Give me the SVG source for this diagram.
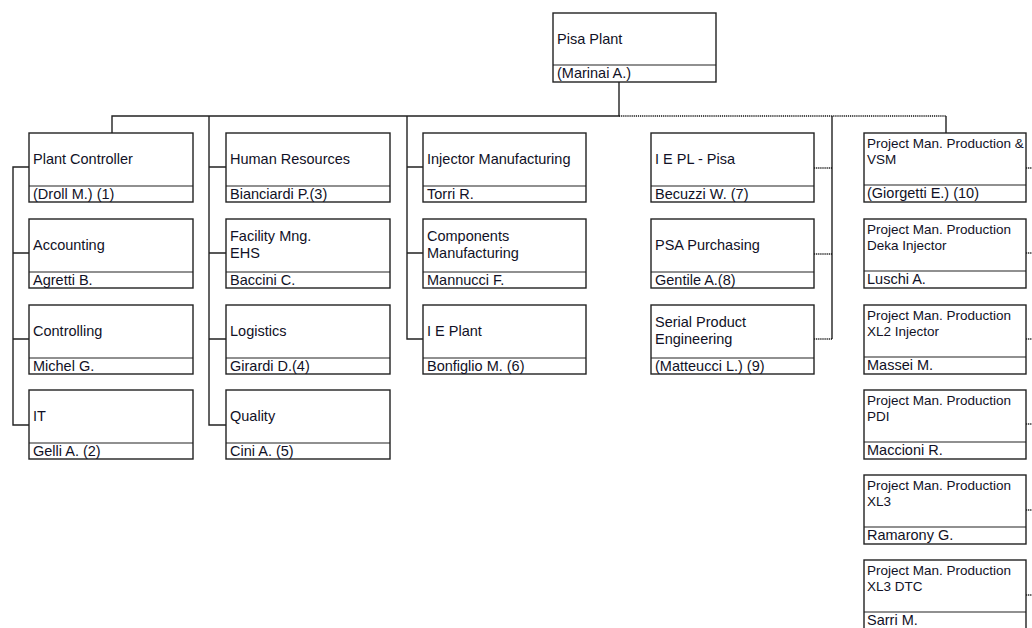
<svg xmlns="http://www.w3.org/2000/svg" width="1032" height="628" viewBox="0 0 1032 628">
  <style>
    .box { fill: #fff; stroke: #222; stroke-width: 1.4; }
    .div { stroke: #222; stroke-width: 1.2; }
    .t { font-family: "Liberation Sans", Arial, sans-serif; font-size: 14.5px; fill: #111126; }
    .s { font-family: "Liberation Sans", Arial, sans-serif; font-size: 13.5px; fill: #111126; }
    .ln { fill: none; stroke: #222; stroke-width: 1.4; }
    .dot { fill: none; stroke: #111; stroke-width: 1.6; stroke-dasharray: 1.2 0.9; }
  </style>
  <rect width="1032" height="628" fill="#fff"/>

  <!-- reporting lines -->
  <g id="connectors">
    <path class="ln" d="M619 82 V116 H112 V133"/>
    <!-- column 1: staff under Plant Controller -->
    <path class="ln" d="M29 167 H13 V425 H29 M13 253 H29 M13 339 H29"/>
    <!-- column 2 -->
    <path class="ln" d="M209 116 V425 H226 M209 167 H226 M209 253 H226 M209 339 H226"/>
    <!-- column 3 -->
    <path class="ln" d="M407 116 V339 H423 M407 167 H423 M407 253 H423"/>
    <!-- functional (dotted) lines -->
    <path class="dot" d="M619 116 H946"/>
    <path class="ln" d="M832 116 V339"/>
    <path class="dot" d="M814 168 H832 M814 254 H832 M814 339 H832"/>
    <path class="ln" d="M946 116 V133"/>
    <path class="dot" d="M1026 168 H1032 M1026 253 H1032 M1026 339 H1032 M1026 424 H1032 M1026 510 H1032 M1026 595 H1032"/>
  </g>

  <g id="pisa-plant">
    <rect class="box" x="553" y="13" width="163" height="69"/>
    <line class="div" x1="553" y1="65" x2="716" y2="65"/>
    <text class="t" x="557" y="44">Pisa Plant</text>
    <text class="t" x="557" y="78">(Marinai A.)</text>
  </g>

  <!-- column 1 -->
  <g id="plant-controller">
    <rect class="box" x="29" y="133" width="164" height="69"/>
    <line class="div" x1="29" y1="186" x2="193" y2="186"/>
    <text class="t" x="33" y="164">Plant Controller</text>
    <text class="t" x="33" y="199">(Droll M.) (1)</text>
  </g>
  <g id="accounting">
    <rect class="box" x="29" y="219" width="164" height="69"/>
    <line class="div" x1="29" y1="272" x2="193" y2="272"/>
    <text class="t" x="33" y="250">Accounting</text>
    <text class="t" x="33" y="285">Agretti B.</text>
  </g>
  <g id="controlling">
    <rect class="box" x="29" y="305" width="164" height="69"/>
    <line class="div" x1="29" y1="358" x2="193" y2="358"/>
    <text class="t" x="33" y="336">Controlling</text>
    <text class="t" x="33" y="371">Michel G.</text>
  </g>
  <g id="it">
    <rect class="box" x="29" y="390" width="164" height="69"/>
    <line class="div" x1="29" y1="443" x2="193" y2="443"/>
    <text class="t" x="33" y="421">IT</text>
    <text class="t" x="33" y="456">Gelli A. (2)</text>
  </g>

  <!-- column 2 -->
  <g id="human-resources">
    <rect class="box" x="226" y="133" width="164" height="69"/>
    <line class="div" x1="226" y1="186" x2="390" y2="186"/>
    <text class="t" x="230" y="164">Human Resources</text>
    <text class="t" x="230" y="199">Bianciardi P.(3)</text>
  </g>
  <g id="facility-ehs">
    <rect class="box" x="226" y="219" width="164" height="69"/>
    <line class="div" x1="226" y1="272" x2="390" y2="272"/>
    <text class="t" x="230" y="241">Facility Mng.</text>
    <text class="t" x="230" y="258">EHS</text>
    <text class="t" x="230" y="285">Baccini C.</text>
  </g>
  <g id="logistics">
    <rect class="box" x="226" y="305" width="164" height="69"/>
    <line class="div" x1="226" y1="358" x2="390" y2="358"/>
    <text class="t" x="230" y="336">Logistics</text>
    <text class="t" x="230" y="371">Girardi D.(4)</text>
  </g>
  <g id="quality">
    <rect class="box" x="226" y="390" width="164" height="69"/>
    <line class="div" x1="226" y1="443" x2="390" y2="443"/>
    <text class="t" x="230" y="421">Quality</text>
    <text class="t" x="230" y="456">Cini A. (5)</text>
  </g>

  <!-- column 3 -->
  <g id="injector-manufacturing">
    <rect class="box" x="423" y="133" width="163" height="69"/>
    <line class="div" x1="423" y1="186" x2="586" y2="186"/>
    <text class="t" x="427" y="164">Injector Manufacturing</text>
    <text class="t" x="427" y="199">Torri R.</text>
  </g>
  <g id="components-manufacturing">
    <rect class="box" x="423" y="219" width="163" height="69"/>
    <line class="div" x1="423" y1="272" x2="586" y2="272"/>
    <text class="t" x="427" y="241">Components</text>
    <text class="t" x="427" y="258">Manufacturing</text>
    <text class="t" x="427" y="285">Mannucci F.</text>
  </g>
  <g id="ie-plant">
    <rect class="box" x="423" y="305" width="163" height="69"/>
    <line class="div" x1="423" y1="358" x2="586" y2="358"/>
    <text class="t" x="427" y="336">I E Plant</text>
    <text class="t" x="427" y="371">Bonfiglio M. (6)</text>
  </g>

  <!-- column 4 -->
  <g id="ie-pl-pisa">
    <rect class="box" x="651" y="133" width="163" height="69"/>
    <line class="div" x1="651" y1="186" x2="814" y2="186"/>
    <text class="t" x="655" y="164">I E PL - Pisa</text>
    <text class="t" x="655" y="199">Becuzzi W. (7)</text>
  </g>
  <g id="psa-purchasing">
    <rect class="box" x="651" y="219" width="163" height="69"/>
    <line class="div" x1="651" y1="272" x2="814" y2="272"/>
    <text class="t" x="655" y="250">PSA Purchasing</text>
    <text class="t" x="655" y="285">Gentile A.(8)</text>
  </g>
  <g id="serial-product-engineering">
    <rect class="box" x="651" y="305" width="163" height="69"/>
    <line class="div" x1="651" y1="358" x2="814" y2="358"/>
    <text class="t" x="655" y="327">Serial Product</text>
    <text class="t" x="655" y="344">Engineering</text>
    <text class="t" x="655" y="371">(Matteucci L.) (9)</text>
  </g>

  <!-- column 5: project management -->
  <g id="pm-vsm">
    <rect class="box" x="864" y="133" width="162" height="69"/>
    <line class="div" x1="864" y1="185" x2="1026" y2="185"/>
    <text class="s" x="867" y="148">Project Man. Production &amp;</text>
    <text class="s" x="867" y="164">VSM</text>
    <text class="t" x="867" y="198">(Giorgetti E.) (10)</text>
  </g>
  <g id="pm-deka">
    <rect class="box" x="864" y="219" width="162" height="69"/>
    <line class="div" x1="864" y1="271" x2="1026" y2="271"/>
    <text class="s" x="867" y="234">Project Man. Production</text>
    <text class="s" x="867" y="250">Deka Injector</text>
    <text class="t" x="867" y="284">Luschi A.</text>
  </g>
  <g id="pm-xl2">
    <rect class="box" x="864" y="305" width="162" height="69"/>
    <line class="div" x1="864" y1="357" x2="1026" y2="357"/>
    <text class="s" x="867" y="320">Project Man. Production</text>
    <text class="s" x="867" y="336">XL2 Injector</text>
    <text class="t" x="867" y="370">Massei M.</text>
  </g>
  <g id="pm-pdi">
    <rect class="box" x="864" y="390" width="162" height="69"/>
    <line class="div" x1="864" y1="442" x2="1026" y2="442"/>
    <text class="s" x="867" y="405">Project Man. Production</text>
    <text class="s" x="867" y="421">PDI</text>
    <text class="t" x="867" y="455">Maccioni R.</text>
  </g>
  <g id="pm-xl3">
    <rect class="box" x="864" y="475" width="162" height="69"/>
    <line class="div" x1="864" y1="527" x2="1026" y2="527"/>
    <text class="s" x="867" y="490">Project Man. Production</text>
    <text class="s" x="867" y="506">XL3</text>
    <text class="t" x="867" y="540">Ramarony G.</text>
  </g>
  <g id="pm-xl3-dtc">
    <rect class="box" x="864" y="560" width="162" height="69"/>
    <line class="div" x1="864" y1="612" x2="1026" y2="612"/>
    <text class="s" x="867" y="575">Project Man. Production</text>
    <text class="s" x="867" y="591">XL3 DTC</text>
    <text class="t" x="867" y="625">Sarri M.</text>
  </g>
</svg>
